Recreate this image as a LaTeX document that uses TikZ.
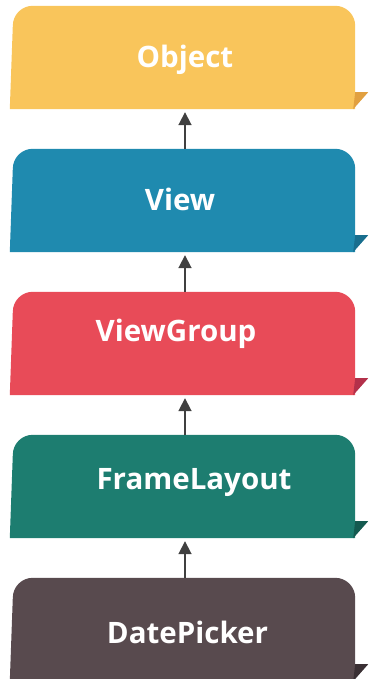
\documentclass[tikz,border=0pt]{standalone}
\usepackage{fontspec}
\setmainfont{Open Sans}
\usetikzlibrary{arrows.meta,backgrounds}

\definecolor{objfill}{HTML}{F9C55B}
\definecolor{objfold}{HTML}{E1A040}
\definecolor{viewfill}{HTML}{1F8AAF}
\definecolor{viewfold}{HTML}{186E8E}
\definecolor{grpfill}{HTML}{E84B58}
\definecolor{grpfold}{HTML}{B3304A}
\definecolor{framefill}{HTML}{1D7D70}
\definecolor{framefold}{HTML}{145A50}
\definecolor{datefill}{HTML}{584A4E}
\definecolor{datefold}{HTML}{3A3034}

\begin{document}
\begin{tikzpicture}[x=1pt,y=1pt,
    box/.style={minimum width=345pt,minimum height=103pt,inner sep=0pt},
    tag/.style={text=white,font=\bfseries\fontsize{29.5}{31}\selectfont},
    link/.style={draw=black!75,line width=1.8pt,
      -{Triangle[width=13pt,length=13pt]},shorten >=3pt}]
  \useasboundingbox (0,0) rectangle (368,679);

  \node[box,label={[tag,xshift=2.5,yshift=-2]center:Object}] (obj) at (182.5,621.5) {};
  \node[box,label={[tag,xshift=-2.5,yshift=1]center:View}] (view) at (182.5,478.5) {};
  \node[box,label={[tag,xshift=-6.5,yshift=10]center:ViewGroup}] (grp) at (182.5,335.5) {};
  \node[box,label={[tag,xshift=11.5,yshift=4]center:FrameLayout}] (frame) at (182.5,192.5) {};
  \node[box,label={[tag,xshift=5,yshift=-3]center:DatePicker}] (date) at (182.5,49.5) {};

  % tabs with rounded top and a folded corner
  \begin{scope}[on background layer]
    \foreach \n/\c/\f in {obj/objfill/objfold,view/viewfill/viewfold,
        grp/grpfill/grpfold,frame/framefill/framefold,date/datefill/datefold}{
      \fill[\c] (\n.south west) -- ([shift={(3,-20)}]\n.north west)
        arc[start angle=180,end angle=90,radius=20pt]
        -- ([xshift=-20]\n.north east)
        arc[start angle=90,end angle=0,radius=20pt]
        -- (\n.south east) -- cycle;
      \fill[\f] ([yshift=17]\n.south east) -- ++(13,0)
        -- ([xshift=-2]\n.south east) -- cycle;
    }
  \end{scope}

  \draw[link] ([xshift=2.5]view.north)  -- ([xshift=2.5]obj.south);
  \draw[link] ([xshift=2.5]grp.north)   -- ([xshift=2.5]view.south);
  \draw[link] ([xshift=2.5]frame.north) -- ([xshift=2.5]grp.south);
  \draw[link] ([xshift=2.5]date.north)  -- ([xshift=2.5]frame.south);
\end{tikzpicture}
\end{document}
